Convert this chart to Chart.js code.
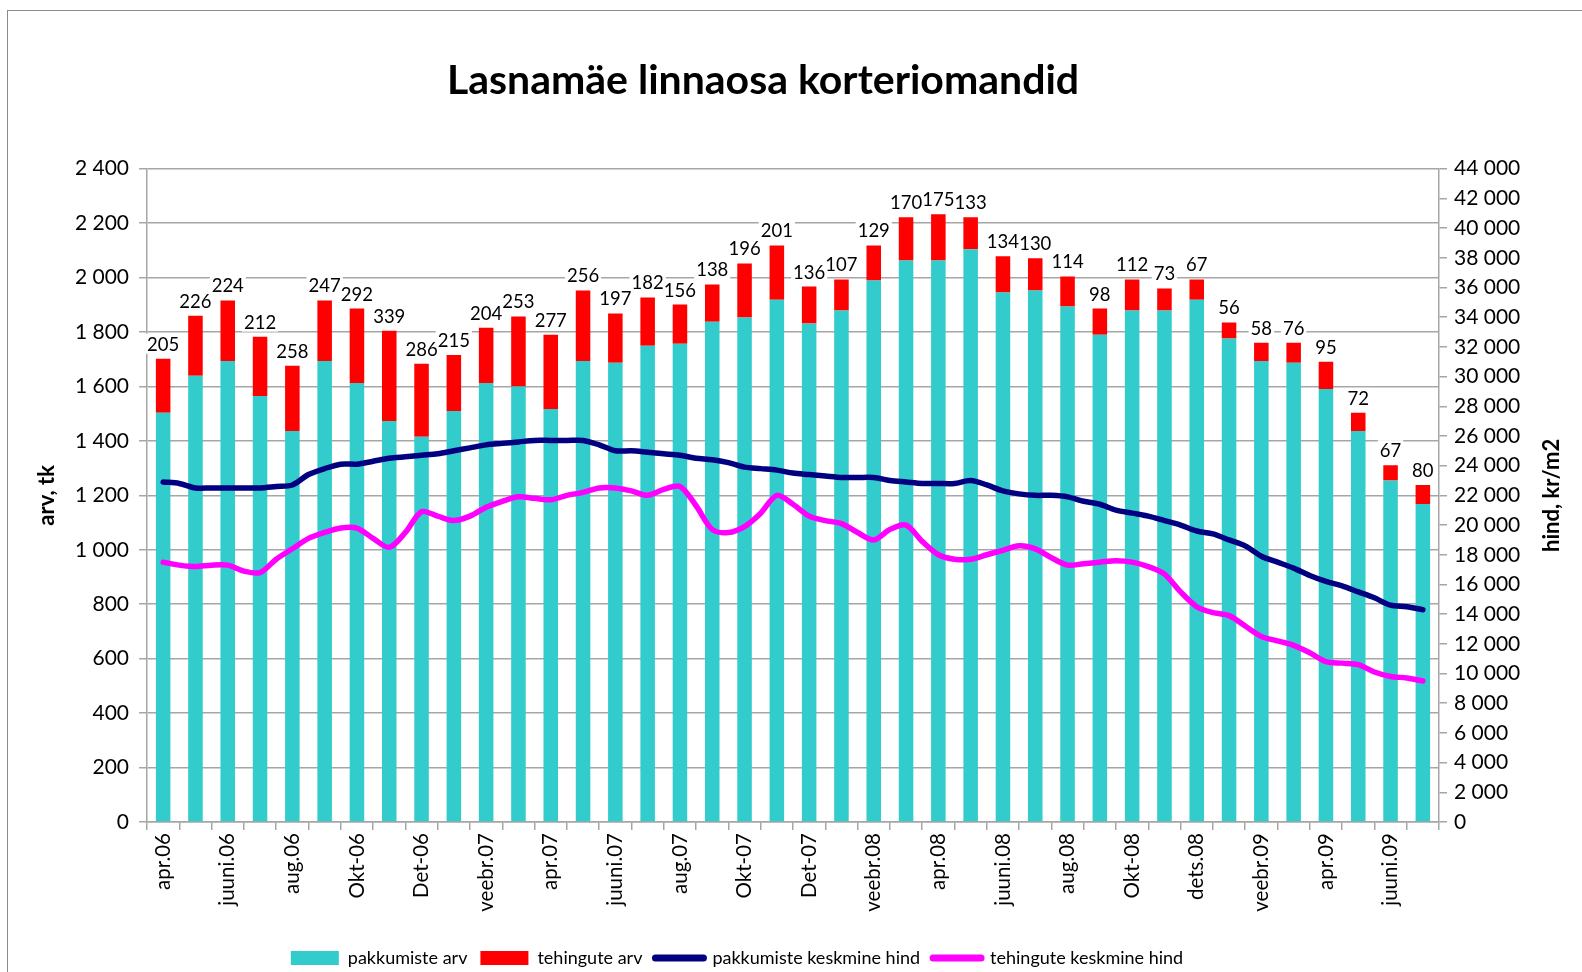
<!DOCTYPE html>
<html><head><meta charset="utf-8">
<script src="https://cdn.jsdelivr.net/npm/chart.js@4.4.0/dist/chart.umd.min.js"></script>
<style>
html,body{margin:0;padding:0;background:#fff;overflow:hidden;width:1582px;height:972px}
#frame{position:absolute;left:7px;top:10px;width:1700px;height:1100px;border:1.5px solid #8c8c8c;box-sizing:border-box}
#wrap{position:absolute;left:0;top:0;width:1582px;height:972px}
</style></head><body>
<div id="frame"></div>
<div id="wrap"><canvas id="c" width="1582" height="972"></canvas></div>
<script>
const months = ['apr.06','mai.06','juuni.06','juuli.06','aug.06','sept.06','Okt-06','Nov-06','Det-06','jaan.07',
  'veebr.07','märts.07','apr.07','mai.07','juuni.07','juuli.07','aug.07','sept.07','Okt-07','Nov-07',
  'Det-07','jaan.08','veebr.08','märts.08','apr.08','mai.08','juuni.08','juuli.08','aug.08','sept.08',
  'Okt-08','Nov-08','dets.08','jaan.09','veebr.09','märts.09','apr.09','mai.09','juuni.09','juuli.09'];

const pakkumisteArv = [1503,1639,1694,1565,1436,1694,1613,1473,1415,1510,1613,1600,1517,1694,1687,1750,1757,1838,1853,1919,
  1831,1879,1989,2063,2063,2104,1945,1953,1894,1790,1879,1879,1919,1776,1694,1687,1591,1436,1255,1168];

const tehinguteArv = [199,221,222,218,240,222,273,332,268,206,203,257,273,259,181,177,144,137,199,199,
  136,114,129,159,170,118,133,118,110,96,114,81,74,59,67,74,100,67,56,70];

const tehinguteSildid = [205,226,224,212,258,247,292,339,286,215,204,253,277,256,197,182,156,138,196,201,
  136,107,129,170,175,133,134,130,114,98,112,73,67,56,58,76,95,72,67,80];

// half-month readings, kr/m2 (first value at apr.06, last at juuli.09)
const pakkumisteHind = [22900,22800,22500,22500,22500,22500,22500,22600,22700,23400,23800,24100,24100,24300,24500,24600,24700,24800,25000,25200,
  25400,25500,25600,25700,25700,25700,25700,25400,25000,25000,24900,24800,24700,24500,24400,24200,23900,23800,23700,23500,
  23400,23300,23200,23200,23200,23000,22900,22800,22800,22800,23000,22700,22300,22100,22000,22000,21900,21600,21400,21000,
  20800,20600,20300,20000,19600,19400,19000,18600,17900,17500,17100,16600,16200,15900,15500,15100,14600,14500,14300];

const tehinguteHind = [17500,17300,17200,17300,17300,16900,16800,17700,18400,19100,19500,19800,19800,19100,18500,19500,20900,20600,20300,20600,
  21200,21600,21900,21800,21700,22000,22200,22500,22500,22300,22000,22400,22600,21300,19700,19500,19900,20800,22000,21400,
  20600,20300,20100,19500,19000,19700,20000,18900,18000,17700,17700,18000,18300,18600,18400,17800,17300,17400,17500,17600,
  17500,17200,16700,15500,14500,14100,13900,13200,12500,12200,11900,11400,10800,10700,10600,10100,9800,9700,9500];

const leftAxis = {min: 0, max: 2400, step: 200};
const rightAxis = {min: 0, max: 44000, step: 2000};

const fmt = v => String(v).replace(/\B(?=(\d{3})+(?!\d))/g, ' ');
const GRID = '#a6a6a6';
const FONT = 'Lato';

const shiftPlugin = {
  id: 'shift',
  afterLayout(chart) {
    const L = chart.legend; L.left -= 54; L.right -= 54; L.top += 5; L.bottom += 5;
    const T = chart.titleBlock; T.left -= 28; T.right -= 28;
  }
};

const barLabelPlugin = {
  id: 'barLabels',
  afterDatasetsDraw(chart) {
    const meta = chart.getDatasetMeta(1);
    const ctx = chart.ctx;
    ctx.save();
    ctx.font = '18.5px ' + FONT;
    ctx.textAlign = 'center';
    ctx.textBaseline = 'middle';
    const items = meta.data.map((bar, i) => ({x: bar.x, y: bar.y - 15, t: String(tehinguteSildid[i])}));
    ctx.fillStyle = '#fff';
    items.forEach(it => { const w = ctx.measureText(it.t).width + 4; ctx.fillRect(it.x - w / 2, it.y - 10, w, 20); });
    ctx.fillStyle = '#000';
    items.forEach(it => ctx.fillText(it.t, it.x, it.y + 1));
    ctx.restore();
  }
};

const rightTitlePlugin = {
  id: 'rightTitle',
  afterDraw(chart) {
    const s = chart.scales.y2, a = chart.chartArea, ctx = chart.ctx;
    ctx.save();
    ctx.translate(s.left + 113, (a.top + a.bottom) / 2);
    ctx.rotate(-Math.PI / 2);
    ctx.font = 'bold 22px ' + FONT;
    ctx.fillStyle = '#000';
    ctx.textAlign = 'center';
    ctx.textBaseline = 'middle';
    ctx.fillText('hind, kr/m2', 0, 0);
    ctx.restore();
  }
};

new Chart(document.getElementById('c'), {
  data: {
    labels: months,
    datasets: [
      {type: 'bar', label: 'pakkumiste arv', data: pakkumisteArv, backgroundColor: '#33CCCC',
        xAxisID: 'x', yAxisID: 'y', order: 2, grouped: false, barPercentage: 0.45, categoryPercentage: 1},
      {type: 'bar', label: 'tehingute arv', data: tehinguteArv, backgroundColor: '#FF0000',
        xAxisID: 'x', yAxisID: 'y', order: 2, grouped: false, barPercentage: 0.45, categoryPercentage: 1},
      {type: 'line', label: 'pakkumiste keskmine hind', data: pakkumisteHind.map((v, i) => ({x: i / 2, y: v})),
        xAxisID: 'xl', yAxisID: 'y2', borderColor: '#000080', backgroundColor: '#000080', borderWidth: 5.5,
        pointRadius: 0, tension: 0.3, borderCapStyle: 'round', borderJoinStyle: 'round', order: 1},
      {type: 'line', label: 'tehingute keskmine hind', data: tehinguteHind.map((v, i) => ({x: i / 2, y: v})),
        xAxisID: 'xl', yAxisID: 'y2', borderColor: '#FF00FF', backgroundColor: '#FF00FF', borderWidth: 5.5,
        pointRadius: 0, tension: 0.3, borderCapStyle: 'round', borderJoinStyle: 'round', order: 0}
    ]
  },
  options: {
    responsive: false,
    animation: false,
    devicePixelRatio: 1,
    layout: {padding: 0},
    scales: {
      x: {
        type: 'category', stacked: true, offset: true,
        grid: {offset: true, drawOnChartArea: false, drawTicks: true, tickLength: 8, color: GRID, lineWidth: 1.5},
        border: {color: GRID, width: 1.5},
        ticks: {autoSkip: false, maxRotation: 90, minRotation: 90, padding: 3, color: '#000',
          font: {family: FONT, size: 20.5},
          callback(v, i) { return i % 2 === 0 ? this.getLabelForValue(v) : ''; }},
        afterFit(s) { s.height = 109; }
      },
      xl: {type: 'linear', display: false, min: -0.5, max: 39.5},
      y: {
        type: 'linear', position: 'left', stacked: true, min: leftAxis.min, max: leftAxis.max,
        ticks: {stepSize: leftAxis.step, padding: 10, color: '#000', font: {family: FONT, size: 21}, callback: v => fmt(v)},
        grid: {color: GRID, lineWidth: 1.5, tickLength: 8},
        border: {color: GRID, width: 1.5},
        title: {display: true, text: 'arv, tk', color: '#000', font: {family: FONT, size: 22, weight: 'bold'}, padding: {top: 34, bottom: 0}},
        afterFit(s) { s.width = 147; }
      },
      y2: {
        type: 'linear', position: 'right', min: rightAxis.min, max: rightAxis.max,
        ticks: {stepSize: rightAxis.step, padding: 7, color: '#000', font: {family: FONT, size: 21}, callback: v => fmt(v)},
        grid: {drawOnChartArea: false, color: GRID, lineWidth: 1.5, tickLength: 8},
        border: {color: GRID, width: 1.5},
        afterFit(s) { s.width = 143; }
      }
    },
    plugins: {
      title: {display: true, text: 'Lasnamäe linnaosa korteriomandid', color: '#000',
        font: {family: FONT, size: 41, weight: 'bold'}, padding: {top: 56, bottom: 63.5}},
      legend: {
        position: 'bottom',
        labels: {
          usePointStyle: true, pointStyleWidth: 48, boxHeight: 14, padding: 13, color: '#000',
          font: {family: FONT, size: 18},
          generateLabels(chart) {
            return chart.data.datasets.map((ds, i) => {
              const isBar = ds.type === 'bar';
              const c = isBar ? ds.backgroundColor : ds.borderColor;
              return {text: ds.label, fillStyle: c, strokeStyle: c, lineWidth: isBar ? 0 : 7, lineCap: 'round',
                pointStyle: isBar ? 'rect' : 'line', datasetIndex: i, hidden: false, fontColor: '#000'};
            });
          }
        }
      },
      tooltip: {enabled: false}
    }
  },
  plugins: [shiftPlugin, barLabelPlugin, rightTitlePlugin]
});
</script>
</body></html>
